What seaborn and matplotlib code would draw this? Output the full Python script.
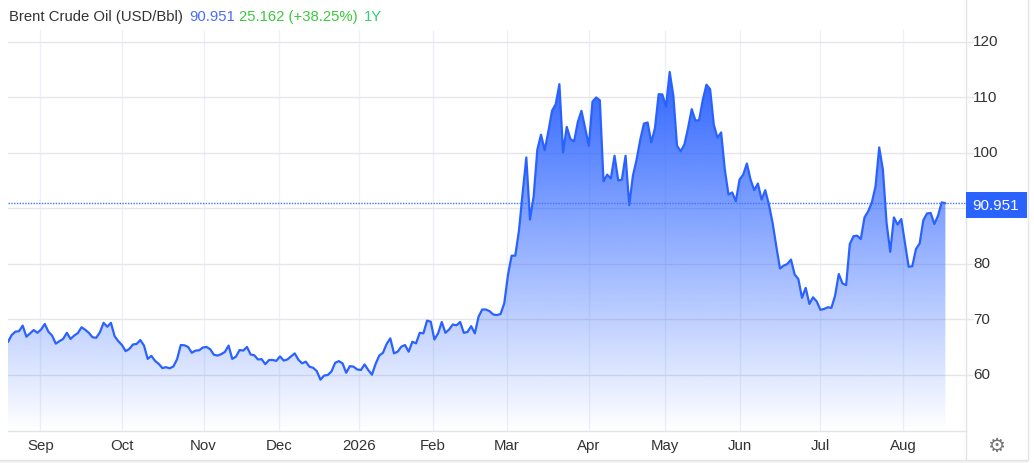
import numpy as np
import pandas as pd
import matplotlib
matplotlib.use("Agg")
import matplotlib.pyplot as plt
from matplotlib.lines import Line2D
from matplotlib.patches import Rectangle
from matplotlib.transforms import ScaledTranslation
import seaborn as sns

prices_aug_dec = [65.95,67.2,67.8,67.9,68.9,66.9,67.5,68.1,67.6,68.2,69.2,67.8,67.1,65.65,66.1,66.5,67.6,66.5,67.1,67.55,
    68.6,68.15,67.6,66.8,66.7,67.7,69.4,68.7,69.4,67.0,66.1,65.4,64.3,64.7,65.5,65.6,66.3,65.3,62.9,63.45,
    62.55,62.0,61.25,61.4,61.2,61.55,62.85,65.4,65.35,65.05,64.0,64.4,64.45,64.95,65.05,64.65,63.65,63.5,63.75,64.15,
    65.3,62.9,63.3,64.5,64.4,65.05,63.7,63.55,62.8,62.85,61.95,62.7,62.7,62.55,63.35,62.6,62.8,63.35,63.9,62.75,
    62.1,62.4,61.5,61.3,60.7,59.15,59.9,60.0,60.65,62.2,62.5]
prices_dec_mar = [62.1,60.4,61.6,61.5,61.0,60.9,61.9,60.9,60.05,62.0,63.5,64.0,65.6,66.6,63.9,64.2,65.1,65.4,64.2,66.0,
    65.7,67.6,67.5,69.8,69.6,66.4,67.5,69.55,67.6,68.2,69.1,68.95,69.55,67.6,67.75,68.8,67.5,70.5,71.8,71.8,
    71.5,70.9,70.8,71.0,72.9,78.0,81.5,81.5,86.0]
prices_mar_may = [92.8,99.2,88.0,92.2,100.6,103.3,100.5,103.9,107.6,108.8,112.4,100.1,104.7,102.5,102.1,105.55,107.6,104.5,101.3,109.25,
    110.0,109.5,94.9,96.1,95.4,99.5,95.05,95.2,99.5,90.6,95.9,98.8,102.4,105.3,105.5,101.9,104.5,110.6,110.55,108.35,
    114.6,110.3,101.3,100.3,101.5,104.5,107.9,105.85,105.9,109.55,112.3,111.5,105.1,102.75,103.7,97.0,92.5,92.9,91.3,95.2,96.1]
prices_jun_aug = [98.1,95.2,93.3,94.5,91.6,93.3,90.7,87.4,83.2,79.2,79.7,80.0,80.8,78.1,77.3,73.9,75.7,72.8,74.0,73.25,
    71.75,71.9,72.2,72.1,74.3,78.2,76.5,76.2,83.6,85.0,85.1,84.5,88.4,89.5,91.1,94.0,101.0,97.0,87.4,82.2,
    88.4,87.1,88.1,83.8,79.5,79.6,82.7,83.7,87.9,89.1,89.2,87.2,88.7,91.1,90.951]
prices = prices_aug_dec + prices_dec_mar + prices_mar_may + prices_jun_aug
sessions = list(range(len(prices)))
month_labels = ["Sep","Oct","Nov","Dec","2026","Feb","Mar","Apr","May","Jun","Jul","Aug"]
month_sessions = [8.84,31,53.2,73.8,95.5,115.6,135.7,158,178.7,199,221,243.6]
price_ticks = [60,70,80,90,100,110,120]
price_tick_labels = ["60","70","80","","100","110","120"]
last_price = 90.951

W, H = 1034, 463
sns.set_theme(style="white")
plt.rcParams["font.family"] = ["Liberation Sans", "DejaVu Sans"]
fig = plt.figure(figsize=(W/100, H/100), dpi=100, facecolor="white")
L, R, T, B = 8, 965.5, 30, 430.5
ax = fig.add_axes([L/W, 1-B/H, (R-L)/W, (B-T)/H])
df = pd.DataFrame({"session": sessions, "price": prices})
STEP = 3.676
LINE = "#2a62ff"

ax.set_xlim(0, (R-L)/STEP)
ax.set_ylim(50, 122.16)
ax.set_xticks(month_sessions)
ax.set_xticklabels(month_labels)
ax.set_yticks(price_ticks)
ax.set_yticklabels(price_tick_labels)
ax.yaxis.tick_right()
ax.tick_params(axis="x", length=0, pad=6, labelsize=10.8, labelcolor="#333333")
ax.tick_params(axis="y", length=5, width=1, color="#e4e6e8", pad=0.5, labelsize=11, labelcolor="#333333", right=True)
shift_up = ScaledTranslation(0, 1/100, fig.dpi_scale_trans)
for lab in ax.get_yticklabels():
    lab.set_transform(lab.get_transform() + shift_up)
ax.grid(axis="y", color="#e6e6e8", lw=1)
ax.grid(axis="x", color="#edf1f5", lw=1)
ax.set_axisbelow(True)
for s in ["top", "left", "right"]:
    ax.spines[s].set_visible(False)
ax.spines["bottom"].set_color("#e2e4e7")
ax.spines["bottom"].set_linewidth(1)

# gradient area below the line
poly = ax.fill_between(df["session"], df["price"], 50, facecolor="none", edgecolor="none")
rgba = np.zeros((256, 1, 4))
rgba[..., :3] = matplotlib.colors.to_rgb(LINE)
rgba[..., 3] = np.linspace(0.98, 0.0, 256)[:, None]
im = ax.imshow(rgba, extent=[0, sessions[-1], 50, max(prices)], origin="upper", aspect="auto",
               interpolation="bilinear", zorder=2)
im.set_clip_path(poly.get_paths()[0], transform=ax.transData)
ax.set_xlim(0, (R-L)/STEP)
ax.set_ylim(50, 122.16)

sns.lineplot(data=df, x="session", y="price", ax=ax, color=LINE, lw=1.6, zorder=3, legend=False)
ax.set_xlabel("")
ax.set_ylabel("")
ax.axhline(last_price, color="#3d74ff", lw=1, ls=(0, (1, 1)), zorder=4)

# frame furniture
fig.add_artist(Line2D([R/W, R/W], [1-459/H, 1], color="#e2e4e7", lw=1))
fig.add_artist(Line2D([1027.5/W, 1027.5/W], [1-459/H, 1], color="#e2e4e7", lw=1))
fig.add_artist(Rectangle((0, 0), 1028/W, 3.5/H, transform=fig.transFigure, color="#f3f3f3", lw=0))
fig.add_artist(Line2D([0, 1028/W], [1-459.5/H, 1-459.5/H], color="#e2e4e7", lw=1))

# last-price badge
fig.add_artist(Rectangle((966/W, 1-217.7/H), 61/W, 25.7/H, transform=fig.transFigure, color="#2962ff", lw=0, zorder=5))
fig.text(996/W, 1-205.5/H, f"{last_price:.3f}", color="white", fontsize=11, ha="center", va="center", zorder=6)

# header
y_head = 1-17/H
fig.text(9/W, y_head, "Brent Crude Oil (USD/Bbl)", color="#333333", fontsize=10.75, va="center")
fig.text(189/W, y_head, "90.951", color="#4a6cf7", fontsize=10.75, va="center")
fig.text(239/W, y_head, "25.162 (+38.25%)", color="#3cc83c", fontsize=10.75, va="center")
fig.text(363.5/W, y_head, "1Y", color="#33cc77", fontsize=10.75, va="center")

# settings glyph
fig.text(996/W, 1-446.5/H, "\u2699", color="#777777", fontsize=14.5, ha="center", va="center", family="DejaVu Sans")

fig.savefig("out.png", dpi=100)
